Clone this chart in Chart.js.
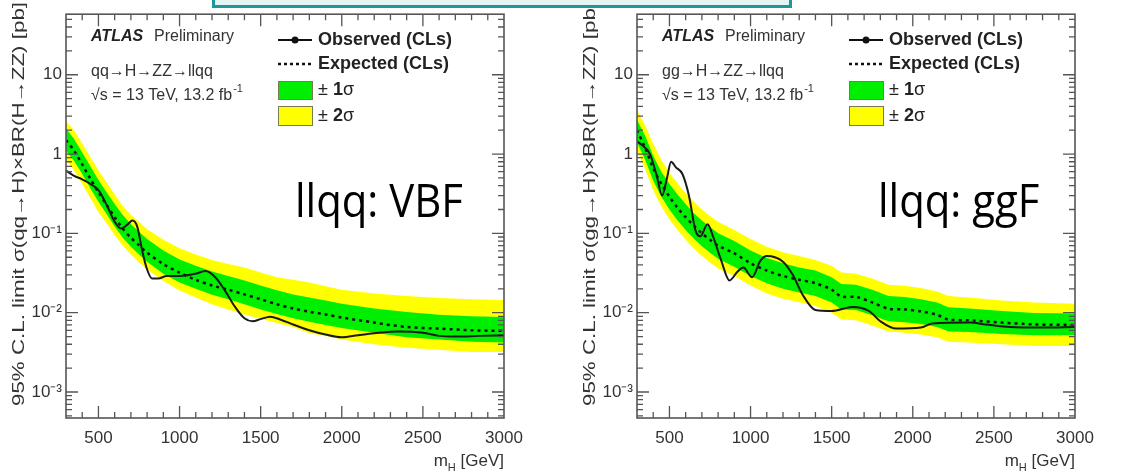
<!DOCTYPE html>
<html>
<head>
<meta charset="utf-8">
<script src="https://cdn.jsdelivr.net/npm/chart.js@4.4.1/dist/chart.umd.min.js"></script>
<style>
  body { margin: 0; background: #fff; width: 1141px; height: 476px; overflow: hidden; position: relative; }
  .panel { position: absolute; top: 0; width: 570px; height: 476px; }
  #teal { position: absolute; left: 212px; top: 0; width: 574px; height: 5px; border: 3px solid #1e9896; border-top: none; background: #e4f4f3; }
</style>
</head>
<body>
<div class="panel" style="left:0"><canvas id="vbfChart" width="570" height="476"></canvas></div>
<div class="panel" style="left:571px"><canvas id="ggfChart" width="570" height="476"></canvas></div>
<div id="teal"></div>

<script>
// ---- data ----
const massVBF = [300, 350, 400, 450, 500, 550, 600, 650, 700, 750, 800, 900, 1000, 1100, 1200, 1300, 1400, 1500, 1600, 1700, 1800, 1900, 2000, 2200, 2400, 2600, 2800, 3000];
const expVBF = [1.5, 1.1, 0.74, 0.49, 0.33, 0.23, 0.16, 0.115, 0.088, 0.071, 0.057, 0.041, 0.032, 0.026, 0.022, 0.0195, 0.017, 0.0148, 0.0128, 0.0113, 0.0103, 0.0095, 0.0087, 0.0075, 0.0066, 0.0063, 0.006, 0.0059];
const plus2VBF = [2.6, 2.0, 1.35, 0.92, 0.62, 0.44, 0.31, 0.22, 0.17, 0.14, 0.113, 0.083, 0.065, 0.054, 0.046, 0.041, 0.037, 0.032, 0.028, 0.026, 0.024, 0.0215, 0.0195, 0.0175, 0.0162, 0.0153, 0.0148, 0.0145];
const plus1VBF = [2.1, 1.55, 1.05, 0.70, 0.47, 0.33, 0.235, 0.17, 0.13, 0.105, 0.085, 0.061, 0.047, 0.039, 0.033, 0.029, 0.0255, 0.022, 0.0192, 0.017, 0.0155, 0.0142, 0.013, 0.0113, 0.0102, 0.0094, 0.009, 0.0088];
const minus1VBF = [1.1, 0.82, 0.56, 0.37, 0.25, 0.175, 0.122, 0.088, 0.068, 0.054, 0.044, 0.031, 0.024, 0.02, 0.0168, 0.0148, 0.0128, 0.011, 0.0096, 0.0085, 0.0077, 0.007, 0.0064, 0.0056, 0.0049, 0.0046, 0.0043, 0.0042];
const minus2VBF = [0.85, 0.62, 0.42, 0.28, 0.185, 0.135, 0.095, 0.07, 0.054, 0.043, 0.035, 0.025, 0.019, 0.0155, 0.0128, 0.011, 0.0095, 0.0084, 0.0074, 0.0066, 0.0055, 0.0051, 0.0046, 0.004, 0.0036, 0.0034, 0.0032, 0.0032];
const obsMassVBF = [300, 350, 400, 450, 500, 550, 600, 640, 680, 710, 740, 770, 800, 830, 870, 920, 1000, 1100, 1160, 1220, 1280, 1340, 1400, 1450, 1500, 1560, 1620, 1700, 1800, 1900, 2000, 2100, 2200, 2350, 2500, 2600, 2700, 2850, 3000];
const obsVBF = [0.62, 0.53, 0.48, 0.42, 0.35, 0.23, 0.14, 0.115, 0.13, 0.145, 0.12, 0.06, 0.035, 0.027, 0.027, 0.029, 0.029, 0.031, 0.0335, 0.028, 0.019, 0.012, 0.0085, 0.0078, 0.0083, 0.0089, 0.0082, 0.0071, 0.006, 0.0053, 0.0049, 0.0052, 0.0055, 0.0058, 0.0056, 0.0051, 0.005, 0.0051, 0.0052];

const massGGF = [300, 350, 400, 450, 500, 550, 600, 650, 700, 750, 800, 900, 1000, 1100, 1200, 1300, 1400, 1500, 1560, 1650, 1750, 1850, 1950, 2050, 2150, 2220, 2350, 2550, 2750, 3000];
const expGGF = [2.0, 1.2, 0.66, 0.42, 0.29, 0.21, 0.16, 0.125, 0.1, 0.083, 0.07, 0.056, 0.042, 0.034, 0.029, 0.026, 0.0235, 0.0195, 0.016, 0.0158, 0.0135, 0.0112, 0.011, 0.0104, 0.0094, 0.0082, 0.008, 0.0075, 0.0071, 0.007];
const plus2GGF = [3.6, 2.3, 1.35, 0.85, 0.58, 0.43, 0.32, 0.25, 0.2, 0.165, 0.14, 0.11, 0.085, 0.068, 0.058, 0.052, 0.046, 0.039, 0.032, 0.031, 0.027, 0.0225, 0.0218, 0.0205, 0.0185, 0.0162, 0.0155, 0.0142, 0.0134, 0.013];
const plus1GGF = [2.7, 1.7, 0.95, 0.6, 0.42, 0.31, 0.235, 0.18, 0.145, 0.12, 0.1, 0.08, 0.061, 0.049, 0.042, 0.037, 0.034, 0.028, 0.023, 0.0225, 0.0195, 0.0162, 0.0158, 0.0148, 0.0134, 0.0117, 0.0113, 0.0105, 0.0099, 0.0098];
const minus1GGF = [1.4, 0.85, 0.46, 0.29, 0.2, 0.145, 0.11, 0.086, 0.069, 0.057, 0.048, 0.038, 0.029, 0.0235, 0.02, 0.018, 0.0162, 0.0134, 0.011, 0.0108, 0.0093, 0.0078, 0.0076, 0.0072, 0.0066, 0.0058, 0.0057, 0.0054, 0.0052, 0.0052];
const minus2GGF = [1.1, 0.65, 0.35, 0.22, 0.15, 0.11, 0.083, 0.065, 0.052, 0.043, 0.036, 0.029, 0.022, 0.0175, 0.015, 0.0135, 0.0121, 0.01, 0.0082, 0.008, 0.0069, 0.0058, 0.0056, 0.0053, 0.0049, 0.0043, 0.0042, 0.004, 0.0038, 0.0038];
const obsMassGGF = [300, 340, 380, 420, 455, 485, 510, 540, 580, 620, 660, 690, 735, 770, 820, 870, 920, 955, 1010, 1060, 1100, 1200, 1260, 1320, 1400, 1500, 1630, 1730, 1800, 1900, 2050, 2120, 2350, 2450, 2600, 2800, 3000];
const obsGGF = [1.45, 1.25, 1.0, 0.55, 0.3, 0.5, 0.8, 0.68, 0.56, 0.3, 0.11, 0.092, 0.13, 0.09, 0.045, 0.0255, 0.033, 0.037, 0.028, 0.045, 0.052, 0.044, 0.03, 0.017, 0.0108, 0.0105, 0.0118, 0.0105, 0.0078, 0.0063, 0.0065, 0.0073, 0.0075, 0.0071, 0.0066, 0.0065, 0.0066];

const xTickValues = [500, 1000, 1500, 2000, 2500, 3000];
const yTickValues = [0.001, 0.01, 0.1, 1, 10];
const yTickLabels = ['10⁻³', '10⁻²', '10⁻¹', '1', '10'];

const FONT = '"Liberation Sans", Arial, sans-serif';

function pairs(xs, ys) {
    return xs.map((m, i) => ({ x: m, y: ys[i] }));
}

// frame, mirrored ROOT-style ticks, legend and labels
const atlasDecor = {
    id: 'atlasDecor',
    afterDatasetsDraw(chart) {
        const { ctx, chartArea: a, scales: { x, y } } = chart;
        ctx.save();
        ctx.strokeStyle = '#555';
        ctx.lineWidth = 1.3;
        ctx.beginPath();
        for (let m = 400; m < 3000; m += 100) {
            const px = x.getPixelForValue(m);
            const len = m % 500 === 0 ? 12 : 6;
            ctx.moveTo(px, a.bottom); ctx.lineTo(px, a.bottom - len);
            ctx.moveTo(px, a.top); ctx.lineTo(px, a.top + len);
        }
        for (let e = -4; e <= 1; e++) {
            for (let k = 1; k <= 9; k++) {
                const v = k * Math.pow(10, e);
                if (v <= y.min || v >= y.max) continue;
                const py = y.getPixelForValue(v);
                const len = k === 1 ? 12 : 6;
                ctx.moveTo(a.left, py); ctx.lineTo(a.left + len, py);
                ctx.moveTo(a.right, py); ctx.lineTo(a.right - len, py);
            }
        }
        ctx.stroke();
        ctx.lineWidth = 1.6;
        ctx.strokeRect(a.left, a.top, a.right - a.left, a.bottom - a.top);
        ctx.restore();
    },
    afterDraw(chart, args, opts) {
        const { ctx, chartArea: a } = chart;
        ctx.save();
        ctx.textBaseline = 'middle';
        ctx.fillStyle = '#222';

        // ATLAS Preliminary
        ctx.font = 'italic bold 16px ' + FONT;
        ctx.fillText('ATLAS', 91, 37);
        ctx.font = '16px ' + FONT;
        ctx.fillStyle = '#333';
        ctx.fillText('Preliminary', 154, 37);
        ctx.fillText(opts.process, 91, 72);
        const energy = '√s = 13 TeV, 13.2 fb';
        ctx.fillText(energy, 91, 96);
        const ew = ctx.measureText(energy).width;
        ctx.font = '11px ' + FONT;
        ctx.fillText('-1', 91 + ew + 1, 89);

        // legend
        const lx0 = 278, lx1 = 312, tx = 318;
        ctx.strokeStyle = '#111';
        ctx.lineWidth = 2;
        ctx.beginPath(); ctx.moveTo(lx0, 40); ctx.lineTo(lx1, 40); ctx.stroke();
        ctx.fillStyle = '#111';
        ctx.beginPath(); ctx.arc((lx0 + lx1) / 2, 40, 3.5, 0, Math.PI * 2); ctx.fill();
        ctx.lineWidth = 2.5;
        ctx.setLineDash([3, 3]);
        ctx.beginPath(); ctx.moveTo(lx0, 64); ctx.lineTo(lx1, 64); ctx.stroke();
        ctx.setLineDash([]);
        ctx.lineWidth = 1;
        ctx.strokeStyle = '#7a7a50';
        ctx.fillStyle = '#00ee00';
        ctx.fillRect(lx0, 81, lx1 - lx0, 18); ctx.strokeRect(lx0 + 0.5, 81.5, lx1 - lx0, 18);
        ctx.fillStyle = '#ffff00';
        ctx.fillRect(lx0, 106, lx1 - lx0, 19); ctx.strokeRect(lx0 + 0.5, 106.5, lx1 - lx0, 19);

        ctx.fillStyle = '#222';
        ctx.font = 'bold 18px ' + FONT;
        ctx.fillText('Observed (CLs)', tx, 40);
        ctx.fillText('Expected (CLs)', tx, 64);
        [['1', 90], ['2', 116]].forEach(([n, yy]) => {
            let cx = tx;
            ctx.font = '18px ' + FONT;
            ctx.fillText('±', cx, yy);
            cx += ctx.measureText('± ').width;
            ctx.font = 'bold 18px ' + FONT;
            ctx.fillText(n, cx, yy);
            cx += ctx.measureText(n).width;
            ctx.font = '18px ' + FONT;
            ctx.fillText('σ', cx, yy);
        });

        // y axis title, top aligned like ROOT, stretched along its length
        ctx.save();
        ctx.fillStyle = '#333';
        ctx.font = '17px ' + FONT;
        ctx.translate(19, 2);
        ctx.rotate(-Math.PI / 2);
        ctx.textAlign = 'right';
        const tw = ctx.measureText(opts.yTitle).width;
        ctx.scale(404 / tw, 1);
        ctx.fillText(opts.yTitle, 0, 0);
        ctx.restore();

        // x axis title, right aligned: m_H [GeV]
        ctx.textBaseline = 'alphabetic';
        ctx.fillStyle = '#333';
        ctx.font = '17px ' + FONT;
        const rest = ' [GeV]';
        const wRest = ctx.measureText(rest).width;
        const wM = ctx.measureText('m').width;
        ctx.font = '11px ' + FONT;
        const wH = ctx.measureText('H').width;
        let sx = a.right - wRest - wH - wM;
        ctx.font = '17px ' + FONT;
        ctx.fillText('m', sx, 466);
        ctx.font = '11px ' + FONT;
        ctx.fillText('H', sx + wM, 471);
        ctx.font = '17px ' + FONT;
        ctx.fillText(rest, sx + wM + wH, 466);

        // big channel label
        ctx.fillStyle = '#000';
        ctx.font = '46px "Open Sans", "Noto Sans", sans-serif';
        ctx.translate(opts.labelX, 217);
        ctx.scale(0.91, 1);
        ctx.fillText(opts.label, 0, 0);
        ctx.restore();
    }
};

function makePanel(id, d) {
    const ctx = document.getElementById(id).getContext('2d');
    return new Chart(ctx, {
        type: 'line',
        data: {
            datasets: [{
                label: 'Observed (CLs)',
                data: pairs(d.obsMass, d.obs),
                borderColor: '#1a1a1a',
                borderWidth: 2,
                pointRadius: 0,
                cubicInterpolationMode: 'monotone',
                fill: false,
                order: 0
            }, {
                label: 'Expected (CLs)',
                data: pairs(d.mass, d.exp),
                borderColor: '#111',
                borderWidth: 2.5,
                borderDash: [3, 4],
                pointRadius: 0,
                tension: 0.3,
                fill: false,
                order: 1
            }, {
                label: '+1 sigma',
                data: pairs(d.mass, d.plus1),
                borderWidth: 0,
                pointRadius: 0,
                backgroundColor: '#00ee00',
                fill: '+1',
                order: 2
            }, {
                label: '-1 sigma',
                data: pairs(d.mass, d.minus1),
                borderWidth: 0,
                pointRadius: 0,
                fill: false,
                order: 3
            }, {
                label: '+2 sigma',
                data: pairs(d.mass, d.plus2),
                borderWidth: 0,
                pointRadius: 0,
                backgroundColor: '#ffff00',
                fill: '+1',
                order: 4
            }, {
                label: '-2 sigma',
                data: pairs(d.mass, d.minus2),
                borderWidth: 0,
                pointRadius: 0,
                fill: false,
                order: 5
            }]
        },
        options: {
            responsive: false,
            animation: false,
            events: [],
            layout: { padding: { left: 0, right: 66, top: 10, bottom: 0 } },
            plugins: {
                legend: { display: false },
                tooltip: { enabled: false },
                filler: { drawTime: 'beforeDatasetsDraw' },
                atlasDecor: { process: d.process, label: d.label, labelX: d.labelX, yTitle: d.yTitle }
            },
            scales: {
                x: {
                    type: 'linear',
                    min: 300,
                    max: 3000,
                    grid: { display: false, drawTicks: false },
                    border: { display: false },
                    afterBuildTicks: s => { s.ticks = xTickValues.map(v => ({ value: v })); },
                    afterFit: s => { s.height = 58; },
                    ticks: {
                        color: '#333',
                        padding: 10,
                        maxRotation: 0,
                        font: { family: FONT, size: 17 },
                        callback: v => String(v)
                    }
                },
                y: {
                    type: 'logarithmic',
                    min: 4.7e-4,
                    max: 58,
                    grid: { display: false, drawTicks: false },
                    border: { display: false },
                    afterBuildTicks: s => { s.ticks = yTickValues.map(v => ({ value: v })); },
                    afterFit: s => { s.width = 66; },
                    ticks: {
                        color: '#333',
                        padding: 4,
                        font: { family: FONT, size: 17 },
                        callback: (v, i) => yTickLabels[i]
                    }
                }
            }
        },
        plugins: [atlasDecor]
    });
}

document.addEventListener('DOMContentLoaded', function() {
    makePanel('vbfChart', {
        mass: massVBF, exp: expVBF, plus1: plus1VBF, minus1: minus1VBF, plus2: plus2VBF, minus2: minus2VBF,
        obsMass: obsMassVBF, obs: obsVBF,
        process: 'qq→H→ZZ→llqq', label: 'llqq: VBF', labelX: 295,
        yTitle: '95% C.L. limit σ(qq→H)×BR(H→ZZ) [pb]'
    });
    makePanel('ggfChart', {
        mass: massGGF, exp: expGGF, plus1: plus1GGF, minus1: minus1GGF, plus2: plus2GGF, minus2: minus2GGF,
        obsMass: obsMassGGF, obs: obsGGF,
        process: 'gg→H→ZZ→llqq', label: 'llqq: ggF', labelX: 307,
        yTitle: '95% C.L. limit σ(gg→H)×BR(H→ZZ) [pb]'
    });
});
</script>
</body>
</html>
